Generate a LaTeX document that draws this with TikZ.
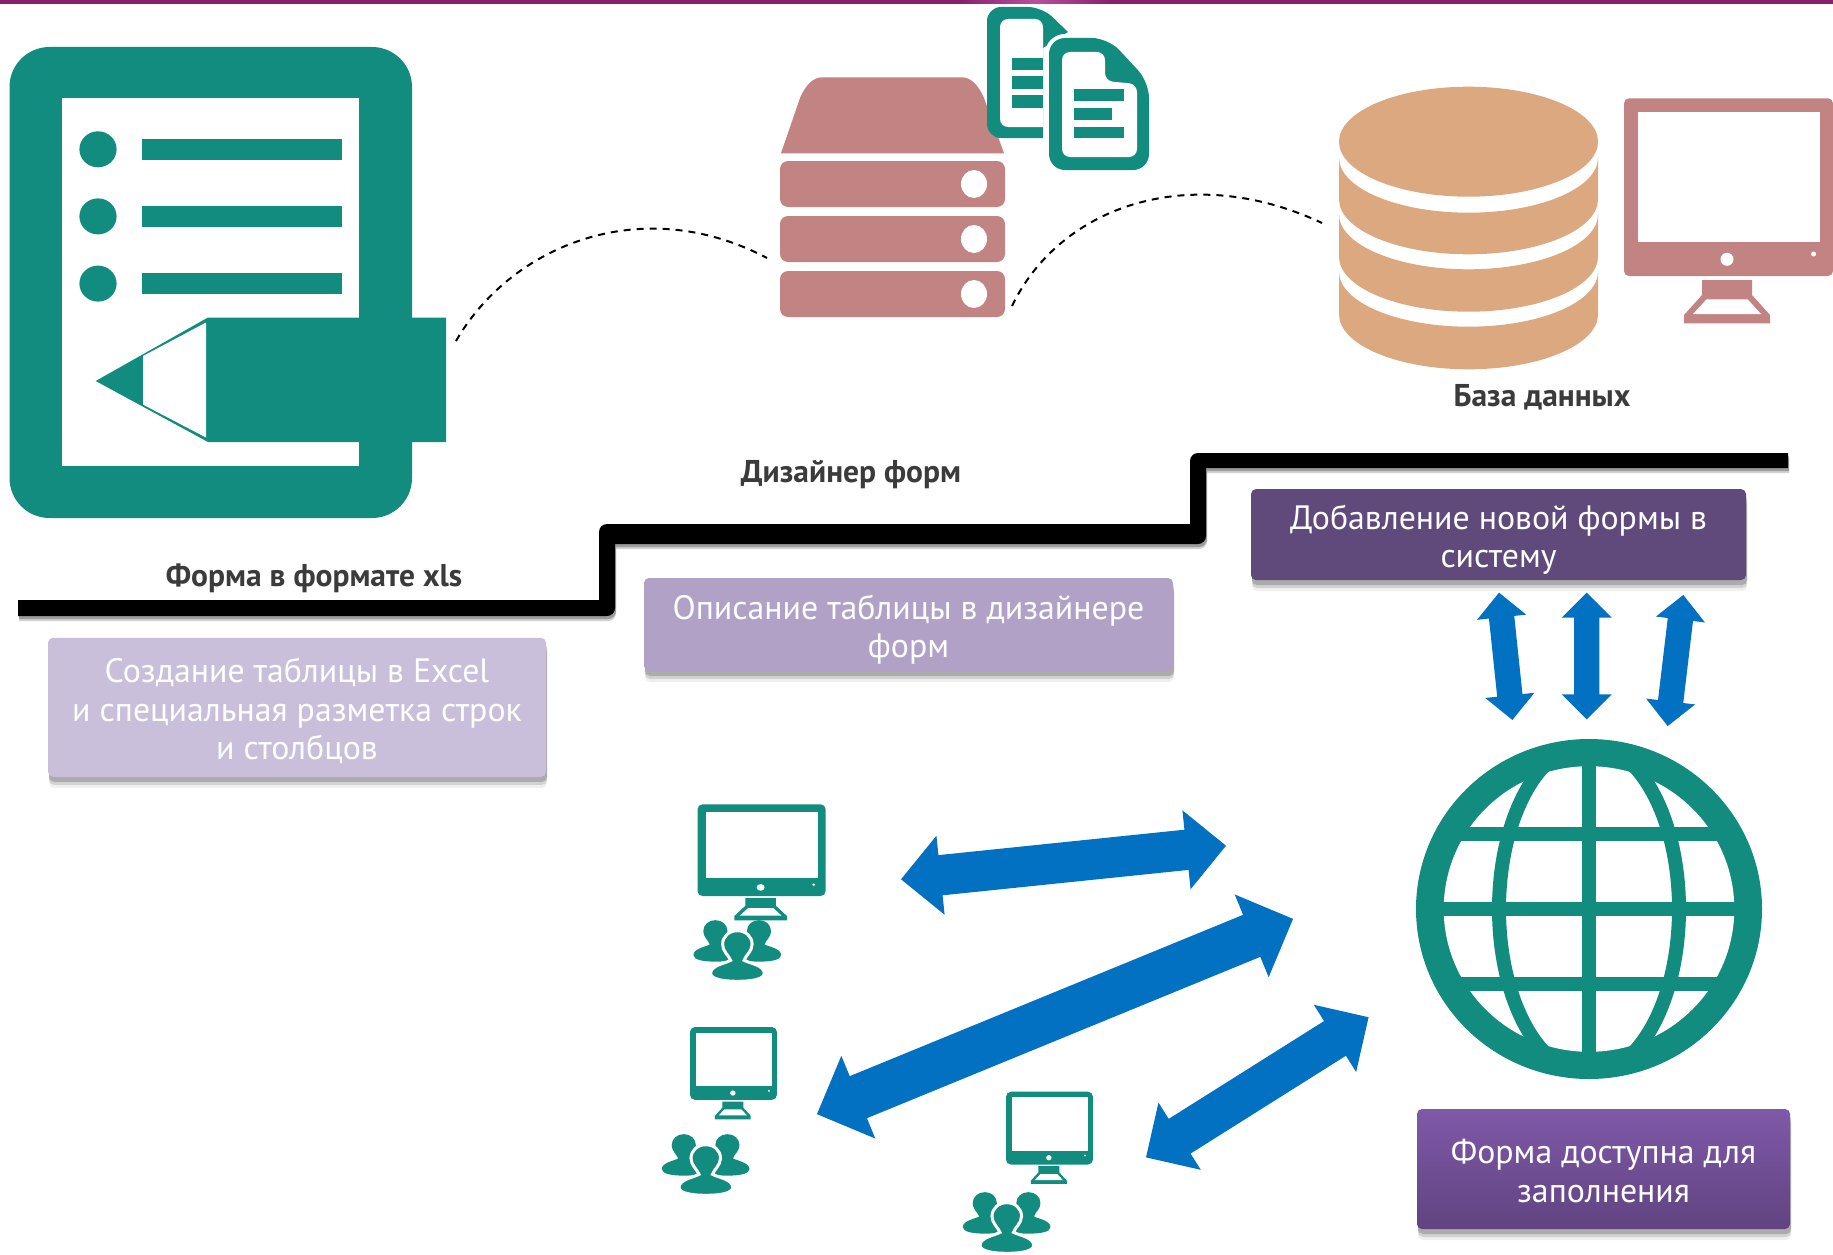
\documentclass[tikz,border=0pt]{standalone}
\usepackage{fontspec}
\setmainfont{PT Sans}
\usetikzlibrary{shapes.arrows, shadows}

\definecolor{bandpurple}{HTML}{8A1F6E}
\definecolor{bandlight}{HTML}{B8509C}
\definecolor{iconteal}{HTML}{128C7F}
\definecolor{iconrose}{HTML}{C28482}
\definecolor{icontan}{HTML}{DCA87F}
\definecolor{arrowblue}{HTML}{0271C1}
\definecolor{labelgray}{HTML}{3B3B3B}
\definecolor{createfill}{HTML}{C9BFDA}
\definecolor{describefill}{HTML}{B1A1C7}
\definecolor{addfill}{HTML}{604A7B}
\definecolor{filltop}{HTML}{7F59A8}
\definecolor{fillbottom}{HTML}{604380}

\tikzset{
    softshadow/.style={
        general shadow={shadow xshift=1pt, shadow yshift=-11pt, fill=black, opacity=.06},
        general shadow={shadow xshift=1pt, shadow yshift=-8pt, fill=black, opacity=.12},
        general shadow={shadow xshift=1pt, shadow yshift=-5pt, fill=black, opacity=.18}
    },
    stepbox/.style={
        rectangle,
        rounded corners=5pt,
        softshadow,
        inner sep=0pt
    },
    steptext/.style={
        text=white,
        align=center,
        inner sep=0pt,
        font=\fontsize{33.8}{38.5}\selectfont
    },
    steplabel/.style={
        text=labelgray,
        inner sep=0pt,
        font=\fontsize{31.5}{34}\selectfont\bfseries
    },
    formdash/.style={black, line width=2pt, dash pattern=on 7pt off 6pt},
    bluearrow/.style n args={3}{
        double arrow,
        fill=arrowblue,
        inner xsep=0pt,
        inner ysep=#3*0.5pt,
        outer sep=0pt,
        minimum height=#1*1pt,
        minimum width=#2*1pt,
        double arrow tip angle=90,
        double arrow head extend=(#2-#3)*0.5pt
    },
    pics/monitor/.style={code={
        \fill[#1, rounded corners=5pt] (0,0) rectangle (209,177.7);
        \fill[white] (14,14) rectangle (196,143.4);
        \fill[white] (103,161) circle (6.5pt);
        \fill[white] (189.6,155.7) circle (2.5pt);
        \fill[#1] (78,181.7) -- (128,181.7) -- (128,196.7) -- (146,216.7) -- (146,225) -- (60,225) -- (60,216.7) -- (78,196.7) -- cycle;
        \fill[white] (82.5,201) -- (123.6,201) -- (137,215.7) -- (69,215.7) -- cycle;
    }},
    pics/person/.style={code={
        \path[#1] (43.8,11.4) .. controls (52,11.4) and (58.5,17) .. (58.5,25)
            .. controls (58.5,32) and (52,36) .. (50.5,41)
            .. controls (56,44) and (70.7,46) .. (70.7,54)
            .. controls (70.7,60) and (58,62) .. (44,62)
            .. controls (30,62) and (17,60) .. (17,54)
            .. controls (17,46) and (32,44) .. (37,41)
            .. controls (35,36) and (29,32) .. (29,25)
            .. controls (29,17) and (35.6,11.4) .. (43.8,11.4) -- cycle;
    }},
    pics/users/.style={code={
        \pic at (-14.1,-9.35) [scale=.82] {person={fill=iconteal}};
        \pic at (29.5,-9.35) [scale=.82] {person={fill=iconteal}};
        \pic {person={fill=iconteal, draw=white, line width=3pt}};
    }}
}

\begin{document}
\begin{tikzpicture}[x=1pt, y=-1pt]
    \useasboundingbox (0,0) rectangle (1833,1255);
    \fill[white] (0,0) rectangle (1833,1255);

    \fill[bandpurple] (0,0) rectangle (1833,4);
    \shade[left color=bandpurple, right color=bandpurple, middle color=bandlight] (960,0) rectangle (1110,4);

    % form icon
    \fill[iconteal, rounded corners=40pt] (9.5,47) rectangle (412,518);
    \fill[white] (62,98) rectangle (359,466);
    \foreach \rowy in {149.3, 216.4, 283.6} {
        \fill[iconteal] (98,\rowy) ellipse [x radius=18.6, y radius=18];
        \fill[iconteal] (142,\rowy-10.5) rectangle (342,\rowy+10.5);
    }
    \fill[iconteal] (95.7,381) -- (208,317.5) -- (446,317.5) -- (446,442) -- (208,442) -- cycle;
    \fill[white] (143,356) -- (206,322.5) -- (206,437.5) -- (143,404.6) -- cycle;

    % server icon
    \fill[iconrose] (781,153.3) -- (800,98) .. controls (806,84) and (814,77.3) .. (822,77.3)
        -- (962,77.3) .. controls (970,77.3) and (978,84) .. (984,98) -- (1004,153.3) -- cycle;
    \foreach \rowy in {184, 239, 294} {
        \fill[iconrose, rounded corners=8pt] (780,\rowy-23) rectangle (1005,\rowy+23);
        \fill[white] (974,\rowy) ellipse [x radius=13, y radius=14];
    }

    % document icons
    \fill[iconteal] (1043,138) [rounded corners=14pt] -- (987,138) -- (987,7) -- (1042,7) [sharp corners] -- (1068,32) -- (1043,48) -- cycle;
    \fill[white] (1043,127) [rounded corners=8pt] -- (1000,127) -- (1000,19) -- (1043,19) [sharp corners] -- cycle;
    \foreach \rowy in {58, 76, 95} {
        \fill[iconteal] (1012,\rowy) rectangle (1043,\rowy+12.5);
    }
    \fill[iconteal, rounded corners=16pt, preaction={draw=white, line width=8pt}] (1049,38) -- (1108,38) -- (1149,82) -- (1149,170) -- (1049,170) -- cycle;
    \fill[white, rounded corners=8pt] (1062,52) -- (1105,52) -- (1105,81) -- (1137,84) -- (1137,157) -- (1062,157) -- cycle;
    \fill[iconteal] (1074,89) rectangle (1124,101);
    \fill[iconteal] (1074,108) rectangle (1112,120);
    \fill[iconteal] (1074,127) rectangle (1124,138);

    % database icon
    \fill[icontan] (1468.5,141.7) ellipse [x radius=129.5, y radius=55];
    \fill[icontan] (1339,157.7) arc [start angle=180, end angle=360, x radius=129.5, y radius=-55]
        -- (1598,199.3) arc [start angle=360, end angle=180, x radius=129.5, y radius=-55] -- cycle;
    \fill[icontan] (1339,214.3) arc [start angle=180, end angle=360, x radius=129.5, y radius=-55]
        -- (1598,256.7) arc [start angle=360, end angle=180, x radius=129.5, y radius=-55] -- cycle;
    \fill[icontan] (1339,271.7) arc [start angle=180, end angle=360, x radius=129.5, y radius=-55]
        -- (1598,314.3) arc [start angle=360, end angle=180, x radius=129.5, y radius=-55] -- cycle;

    \pic at (1624,98.3) {monitor=iconrose};

    % dashed links
    \coordinate (form_link) at (456,341);
    \coordinate (server_in) at (767,258);
    \coordinate (server_out) at (1012,306);
    \coordinate (database_link) at (1322,223);
    \draw[formdash] (form_link) .. controls (510,247) and (640,191) .. (server_in);
    \draw[formdash] (server_out) .. controls (1060,206) and (1190,161) .. (database_link);

    % steps
    \fill[black, general shadow={shadow xshift=1pt, shadow yshift=-5pt, fill=black, opacity=.18},
            general shadow={shadow xshift=1pt, shadow yshift=-3pt, fill=black, opacity=.25}]
        (18,600) -- (599,600) [rounded corners=8pt] -- (599,524) [sharp corners] -- (1190,524)
        [rounded corners=8pt] -- (1190,453) [sharp corners] -- (1788,453) -- (1788,468) -- (1206,468)
        [rounded corners=8pt] -- (1206,544) [sharp corners] -- (615,544)
        [rounded corners=8pt] -- (615,616) [sharp corners] -- (18,616) -- cycle;

    \node (form_label) at (314,578.5) [steplabel] {Форма в формате xls};
    \node (designer_label) at (851,474.5) [steplabel] {Дизайнер форм};
    \node (database_label) at (1542,397.7) [steplabel] {База данных};

    \node (create_box) at (297,707.3) [stepbox, fill=createfill, minimum width=498pt, minimum height=139pt] {};
    \path (create_box.center) + (0,4) node (create_text) [steptext]
        {Создание таблицы в Excel\\и специальная разметка строк\\и столбцов};
    \node (describe_box) at (908.5,624.5) [stepbox, fill=describefill, minimum width=529pt, minimum height=93pt] {};
    \path (describe_box.center) + (0,5) node (describe_text) [steptext]
        {Описание таблицы в дизайнере\\форм};
    \node (add_box) at (1498.5,534.6) [stepbox, fill=addfill, minimum width=495pt, minimum height=91pt] {};
    \path (add_box.center) + (0,5) node (add_text) [steptext]
        {Добавление новой формы в\\систему};
    \node (fill_box) at (1603.5,1169) [stepbox, top color=filltop, bottom color=fillbottom, minimum width=373pt, minimum height=120pt] {};
    \path (fill_box.center) + (0,2) node (fill_text) [steptext]
        {Форма доступна для\\заполнения};

    % globe
    \fill[iconteal] (1589,909) ellipse [x radius=173, y radius=170];
    \fill[white] (1589,909) ellipse [x radius=145.3, y radius=142.8];
    \begin{scope}
        \clip (1589,909) ellipse [x radius=150, y radius=148];
        \fill[iconteal] (1582,730) rectangle (1596,1085);
        \fill[iconteal] (1410,902) rectangle (1770,915.7);
        \fill[iconteal] (1410,827.3) rectangle (1770,840.7);
        \fill[iconteal] (1410,977.3) rectangle (1770,990.7);
        \draw[iconteal, line width=14pt] (1589,909) ellipse [x radius=90, y radius=165];
    \end{scope}

    % arrows
    \node (top_arrow) at (1063.5,862.5) [bluearrow={326.7}{79}{40}, rotate=5.9] {};
    \node (middle_arrow) at (1055,1016.5) [bluearrow={514.6}{89}{45}, rotate=22.3] {};
    \node (bottom_arrow) at (1257.3,1087.3) [bluearrow={263}{79}{40.6}, rotate=32.2] {};
    \node (left_arrow) at (1505.7,656.3) [bluearrow={128}{49}{25}, rotate=96] {};
    \node (center_arrow) at (1586.7,656) [bluearrow={126.6}{49.5}{25}, rotate=90] {};
    \node (right_arrow) at (1675.5,660.5) [bluearrow={132}{49}{25}, rotate=83.2] {};

    % users
    \pic at (697.5,804.3) [xscale=.613, yscale=.516] {monitor=iconteal};
    \pic at (690,1027) [xscale=.416, yscale=.41] {monitor=iconteal};
    \pic at (1006,1091.7) [xscale=.416, yscale=.41] {monitor=iconteal};
    \pic at (693.6,919.3) [yscale=.91] {users};
    \pic at (662,1133.3) [yscale=.91] {users};
    \pic at (963,1191.3) [yscale=.91] {users};
\end{tikzpicture}
\end{document}
